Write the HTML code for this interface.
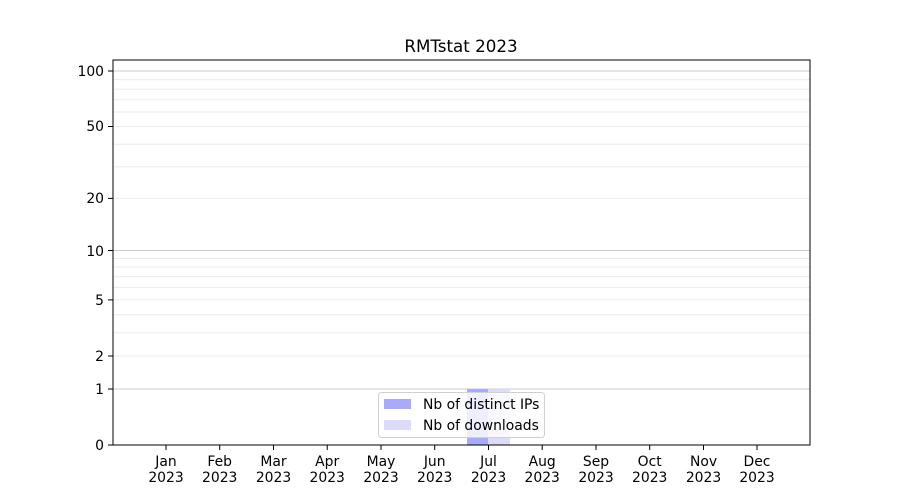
<!DOCTYPE html>
<html><head><meta charset="utf-8"><style>body{margin:0;background:#fff}svg{display:block;font-family:"DejaVu Sans","Liberation Sans",sans-serif}</style></head>
<body>
<svg width="900" height="500" viewBox="0 0 900 500" xmlns="http://www.w3.org/2000/svg">
<rect width="900" height="500" fill="#fff"/>
<text x="461" y="52" font-size="16.7" text-anchor="middle">RMTstat 2023</text>
<g stroke="#ebebeb" stroke-width="1">
<line x1="113" x2="810" y1="356" y2="356"/><line x1="113" x2="810" y1="332.7" y2="332.7"/><line x1="113" x2="810" y1="314.6" y2="314.6"/><line x1="113" x2="810" y1="299.9" y2="299.9"/><line x1="113" x2="810" y1="287.4" y2="287.4"/><line x1="113" x2="810" y1="276.6" y2="276.6"/><line x1="113" x2="810" y1="267" y2="267"/><line x1="113" x2="810" y1="258.5" y2="258.5"/>
<line x1="113" x2="810" y1="198.4" y2="198.4"/><line x1="113" x2="810" y1="166.9" y2="166.9"/><line x1="113" x2="810" y1="144.2" y2="144.2"/><line x1="113" x2="810" y1="126.5" y2="126.5"/><line x1="113" x2="810" y1="112" y2="112"/><line x1="113" x2="810" y1="99.7" y2="99.7"/><line x1="113" x2="810" y1="89.1" y2="89.1"/><line x1="113" x2="810" y1="79.6" y2="79.6"/>
</g>
<g stroke="#cccccc" stroke-width="1">
<line x1="113" x2="810" y1="389" y2="389"/><line x1="113" x2="810" y1="250.5" y2="250.5"/><line x1="113" x2="810" y1="71" y2="71"/>
</g>
<rect x="467" y="389" width="21" height="56" fill="#aaaaf8"/>
<rect x="488" y="389" width="22" height="56" fill="#dcdcfa"/>
<rect x="113" y="60" width="697" height="385" fill="none" stroke="#000" stroke-width="1"/>
<g stroke="#000"><line x1="108" x2="113" y1="445" y2="445"/><line x1="108" x2="113" y1="389" y2="389"/><line x1="108" x2="113" y1="356" y2="356"/><line x1="108" x2="113" y1="299.9" y2="299.9"/><line x1="108" x2="113" y1="250.5" y2="250.5"/><line x1="108" x2="113" y1="198.4" y2="198.4"/><line x1="108" x2="113" y1="126.5" y2="126.5"/><line x1="108" x2="113" y1="71" y2="71"/></g>
<g font-size="13.9" text-anchor="end">
<text x="104" y="450">0</text><text x="104" y="394">1</text><text x="104" y="361">2</text><text x="104" y="305">5</text><text x="104" y="256">10</text><text x="104" y="203">20</text><text x="104" y="131">50</text><text x="104" y="76">100</text>
</g>
<g stroke="#000">
<line x1="166" x2="166" y1="445" y2="450"/><line x1="219.7" x2="219.7" y1="445" y2="450"/><line x1="273.5" x2="273.5" y1="445" y2="450"/><line x1="327.2" x2="327.2" y1="445" y2="450"/><line x1="381" x2="381" y1="445" y2="450"/><line x1="434.7" x2="434.7" y1="445" y2="450"/><line x1="488.5" x2="488.5" y1="445" y2="450"/><line x1="542.2" x2="542.2" y1="445" y2="450"/><line x1="596" x2="596" y1="445" y2="450"/><line x1="649.7" x2="649.7" y1="445" y2="450"/><line x1="703.5" x2="703.5" y1="445" y2="450"/><line x1="757" x2="757" y1="445" y2="450"/>
</g>
<g font-size="13.9" text-anchor="middle">
<text x="166" y="466">Jan</text><text x="166" y="482">2023</text>
<text x="219.7" y="466">Feb</text><text x="219.7" y="482">2023</text>
<text x="273.5" y="466">Mar</text><text x="273.5" y="482">2023</text>
<text x="327.2" y="466">Apr</text><text x="327.2" y="482">2023</text>
<text x="381" y="466">May</text><text x="381" y="482">2023</text>
<text x="434.7" y="466">Jun</text><text x="434.7" y="482">2023</text>
<text x="488.5" y="466">Jul</text><text x="488.5" y="482">2023</text>
<text x="542.2" y="466">Aug</text><text x="542.2" y="482">2023</text>
<text x="596" y="466">Sep</text><text x="596" y="482">2023</text>
<text x="649.7" y="466">Oct</text><text x="649.7" y="482">2023</text>
<text x="703.5" y="466">Nov</text><text x="703.5" y="482">2023</text>
<text x="757" y="466">Dec</text><text x="757" y="482">2023</text>
</g>
<rect x="378.5" y="392.5" width="166" height="45" rx="3" fill="#fff" fill-opacity="0.8" stroke="#d0d0d0"/>
<rect x="384" y="399" width="27" height="10" fill="#aaaaf8"/>
<rect x="384" y="420" width="27" height="10" fill="#dcdcfa"/>
<g font-size="13.9"><text x="423" y="409">Nb of distinct IPs</text><text x="423" y="430">Nb of downloads</text></g>
</svg>
</body></html>
